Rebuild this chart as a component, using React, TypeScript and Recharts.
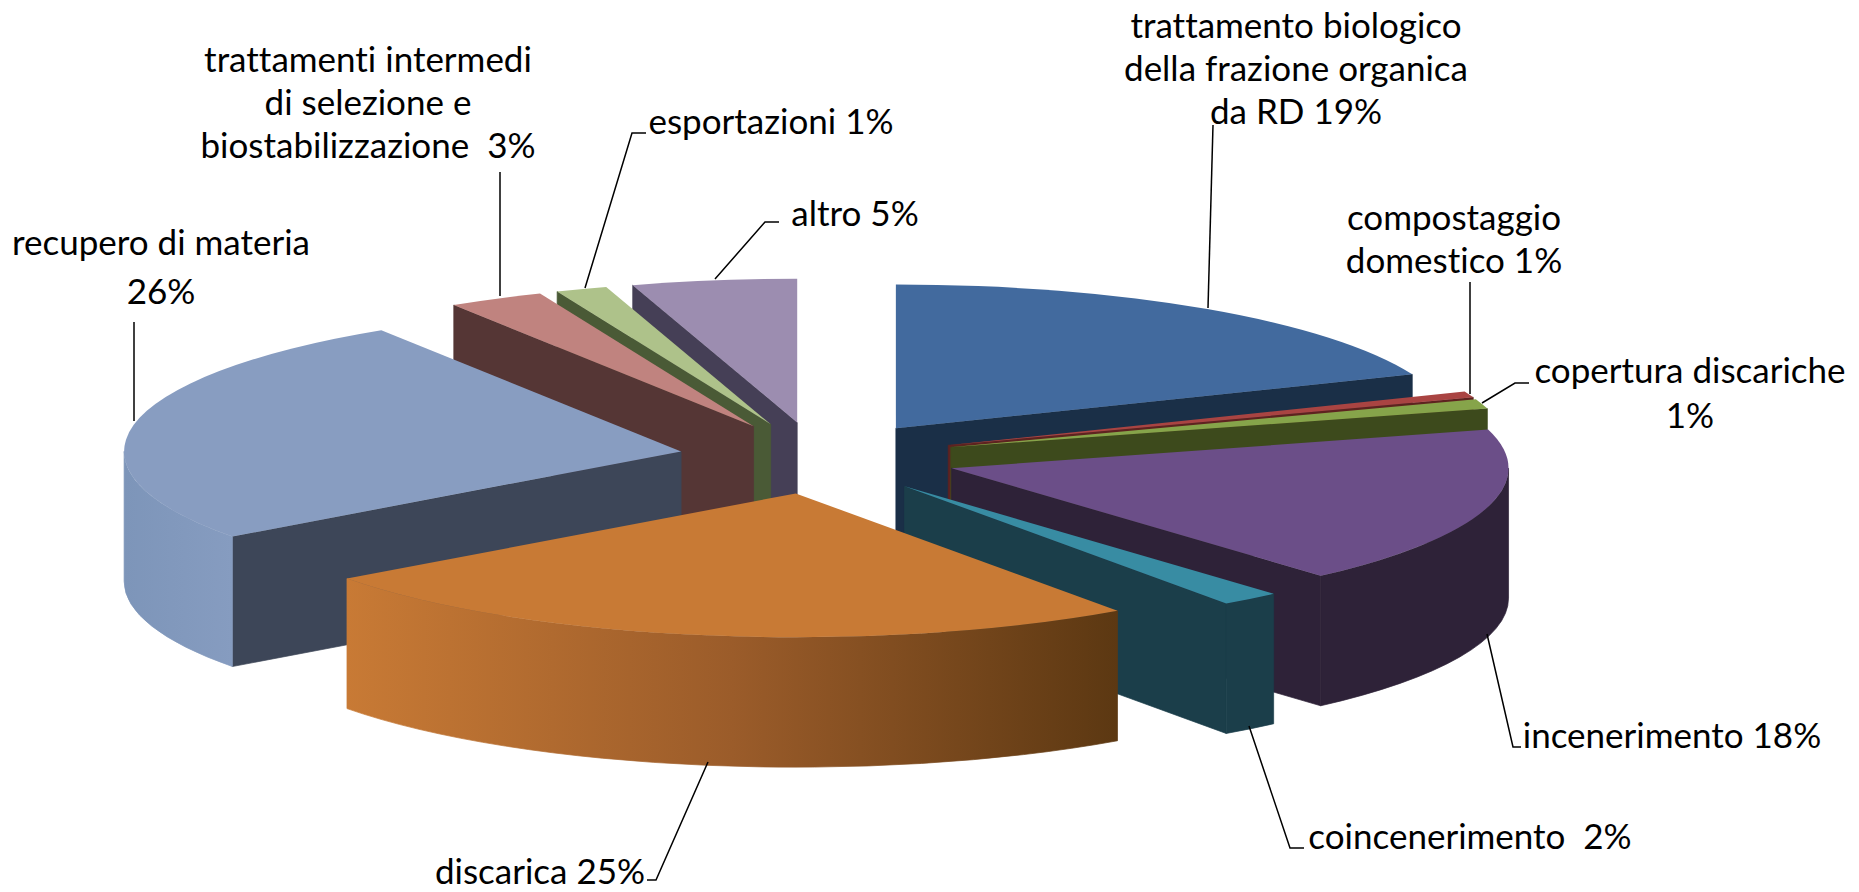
import { PieChart, Pie } from 'recharts';

// slices in clockwise order from 12 o'clock
const NAMES = ['biologico', 'compostaggio', 'copertura', 'incenerimento', 'coincenerimento', 'discarica', 'recupero', 'intermedi', 'esportazioni', 'altro'];
const VALUES = [19, 0.7, 1.1, 17.9, 1.74, 24.86, 26.2, 2.8, 1.5, 4.8];
const TOP_COLORS = ['#426a9e', '#a94442', '#86a44a', '#6b4e88', '#388ca3', '#c87a35', '#889dc1', '#c0837f', '#aec28a', '#9c8db0'];
const WALL_COLORS = ['#1a2f47', '#5e2320', '#3d4a1c', '#2e2238', '#1b3e4a', '#6d4017', '#3d4658', '#553635', '#4a5a36', '#453f56'];
const RIM_COLORS = ['#1a2f47', '#5e2320', '#3d4a1c', '#2e2238', '#1b3e4a', 'url(#rimDiscarica)', 'url(#rimRecupero)', '#553635', '#4a5a36', '#453f56'];

const LABEL_LINES = [
  ['trattamento biologico', 'della frazione organica', 'da RD 19%'],
  ['compostaggio', 'domestico 1%'],
  ['copertura discariche', '1%'],
  ['incenerimento 18%'],
  ['coincenerimento  2%'],
  ['discarica 25%'],
  ['recupero di materia', '26%'],
  ['trattamenti intermedi', 'di selezione e', 'biostabilizzazione  3%'],
  ['esportazioni 1%'],
  ['altro 5%'],
];

// label placement: text centre x, first baseline y, line gap, leader polyline
const LABEL_LAYOUT: Record<string, { x: number; y: number; gap: number; leader: string }> = {
  biologico: { x: 1296, y: 38, gap: 43, leader: '1213,125 1208,308' },
  compostaggio: { x: 1454, y: 230, gap: 43, leader: '1470,282 1470,394' },
  copertura: { x: 1690, y: 383, gap: 45, leader: '1529,383 1515,383 1482,403' },
  incenerimento: { x: 1672, y: 748, gap: 43, leader: '1521,747 1513,747 1487,634' },
  coincenerimento: { x: 1470, y: 849, gap: 43, leader: '1304,848 1290,848 1249,726' },
  discarica: { x: 540, y: 884, gap: 43, leader: '647,880 656,880 708,762' },
  recupero: { x: 161, y: 255, gap: 49, leader: '134,322 134,421' },
  intermedi: { x: 368, y: 72, gap: 43, leader: '500,172 500,296' },
  esportazioni: { x: 771, y: 134, gap: 43, leader: '646,133 632,133 585,288' },
  altro: { x: 855, y: 226, gap: 43, leader: '779,222 765,222 715,279' },
};

const SQUASH = 0.258; // vertical flattening of the disc
const DEPTH = 130;
const EXPLODE = 0.25;

const chartData = NAMES.map((name, i) => ({
  name,
  value: VALUES[i],
  fill: TOP_COLORS[i],
  wall: WALL_COLORS[i],
  rim: RIM_COLORS[i],
  lines: LABEL_LINES[i],
}));

const rightData = chartData.slice(0, 6);
const leftData = chartData.slice(6).reverse();
const total = VALUES.reduce((a, b) => a + b, 0);
const sum = (rows: { value: number }[]) => rows.reduce((a, r) => a + r.value, 0);

const rad = (deg: number) => (deg * Math.PI) / 180;

const Slice3D = (props: any) => {
  const { cx, cy, outerRadius: rx, startAngle, endAngle, fill, wall, rim, name } = props;
  let a = 90 - Math.max(startAngle, endAngle);
  let b = 90 - Math.min(startAngle, endAngle);
  if (a < 0) {
    a += 360;
    b += 360;
  }
  const ry = rx * SQUASH;
  const mid = (a + b) / 2;
  const ax = cx + EXPLODE * rx * Math.sin(rad(mid));
  const ay = cy - EXPLODE * ry * Math.cos(rad(mid));
  const pt = (t: number, dy = 0) => [ax + rx * Math.sin(rad(t)), ay - ry * Math.cos(rad(t)) + dy];
  const [x1, y1] = pt(a);
  const [x2, y2] = pt(b);

  const radialWall = (t: number) => {
    const [x, y] = pt(t);
    return `M${ax},${ay} L${x},${y} L${x},${y + DEPTH} L${ax},${ay + DEPTH} Z`;
  };

  const from = Math.max(a, 90);
  const to = Math.min(b, 270);
  let rimPath = '';
  if (from < to) {
    const [rx1, ry1] = pt(from);
    const [rx2, ry2] = pt(to);
    rimPath = `M${rx1},${ry1} A${rx},${ry} 0 0 1 ${rx2},${ry2} L${rx2},${ry2 + DEPTH} A${rx},${ry} 0 0 0 ${rx1},${ry1 + DEPTH} Z`;
  }

  return (
    <g>
      <defs>
        <linearGradient id="rimDiscarica" gradientUnits="objectBoundingBox" x1="0" y1="0" x2="1" y2="0">
          <stop offset="0" stopColor="#c87a35" />
          <stop offset="0.5" stopColor="#9b5c2a" />
          <stop offset="1" stopColor="#5c3812" />
        </linearGradient>
        <linearGradient id="rimRecupero" gradientUnits="objectBoundingBox" x1="0" y1="0" x2="1" y2="0">
          <stop offset="0" stopColor="#7d95b9" />
          <stop offset="1" stopColor="#869cc0" />
        </linearGradient>
      </defs>
      {Math.sin(rad(a)) < 0 && <path d={radialWall(a)} fill={wall} stroke={wall} strokeWidth={0.7} />}
      {Math.sin(rad(b)) > 0 && <path d={radialWall(b)} fill={wall} stroke={wall} strokeWidth={0.7} />}
      {rimPath && <path d={rimPath} fill={rim} stroke={rim} strokeWidth={0.7} />}
      <path d={`M${ax},${ay} L${x1},${y1} A${rx},${ry} 0 0 1 ${x2},${y2} Z`} fill={fill} data-name={name} />
    </g>
  );
};

const renderLabel = (props: any) => {
  const layout = LABEL_LAYOUT[props.name];
  const lines: string[] = props.lines ?? props.payload?.lines ?? [];
  return (
    <g key={props.name}>
      <polyline points={layout.leader} fill="none" stroke="#000" strokeWidth={1.5} />
      <text
        x={layout.x}
        y={layout.y}
        textAnchor="middle"
        fill="#000"
        fontFamily="Lato, 'Open Sans', sans-serif"
        fontSize={35}
        xmlSpace="preserve"
        style={{ fontVariantLigatures: 'none', whiteSpace: 'pre' }}
      >
        {lines.map((line, i) => (
          <tspan key={i} x={layout.x} y={layout.y + i * layout.gap}>
            {line}
          </tspan>
        ))}
      </text>
    </g>
  );
};

const App = () => {
  const common = {
    dataKey: 'value',
    nameKey: 'name',
    cx: 818,
    cy: 458,
    innerRadius: 0,
    outerRadius: 557,
    stroke: 'none',
    isAnimationActive: false,
    shape: Slice3D,
    inactiveShape: Slice3D,
    activeShape: Slice3D,
    label: renderLabel,
    labelLine: false,
  };

  return (
    <div style={{ position: 'absolute', left: 0, top: 0, width: 1859, height: 892, background: '#fff' }}>
      <PieChart width={1859} height={892} margin={{ top: 0, right: 0, bottom: 0, left: 0 }}>
        {/* back to front: the left half first, so discarica can sit over recupero */}
        <Pie {...common} data={leftData} startAngle={90} endAngle={90 + (sum(leftData) / total) * 360} />
        <Pie {...common} data={rightData} startAngle={90} endAngle={90 - (sum(rightData) / total) * 360} />
      </PieChart>
    </div>
  );
};

export default App;
